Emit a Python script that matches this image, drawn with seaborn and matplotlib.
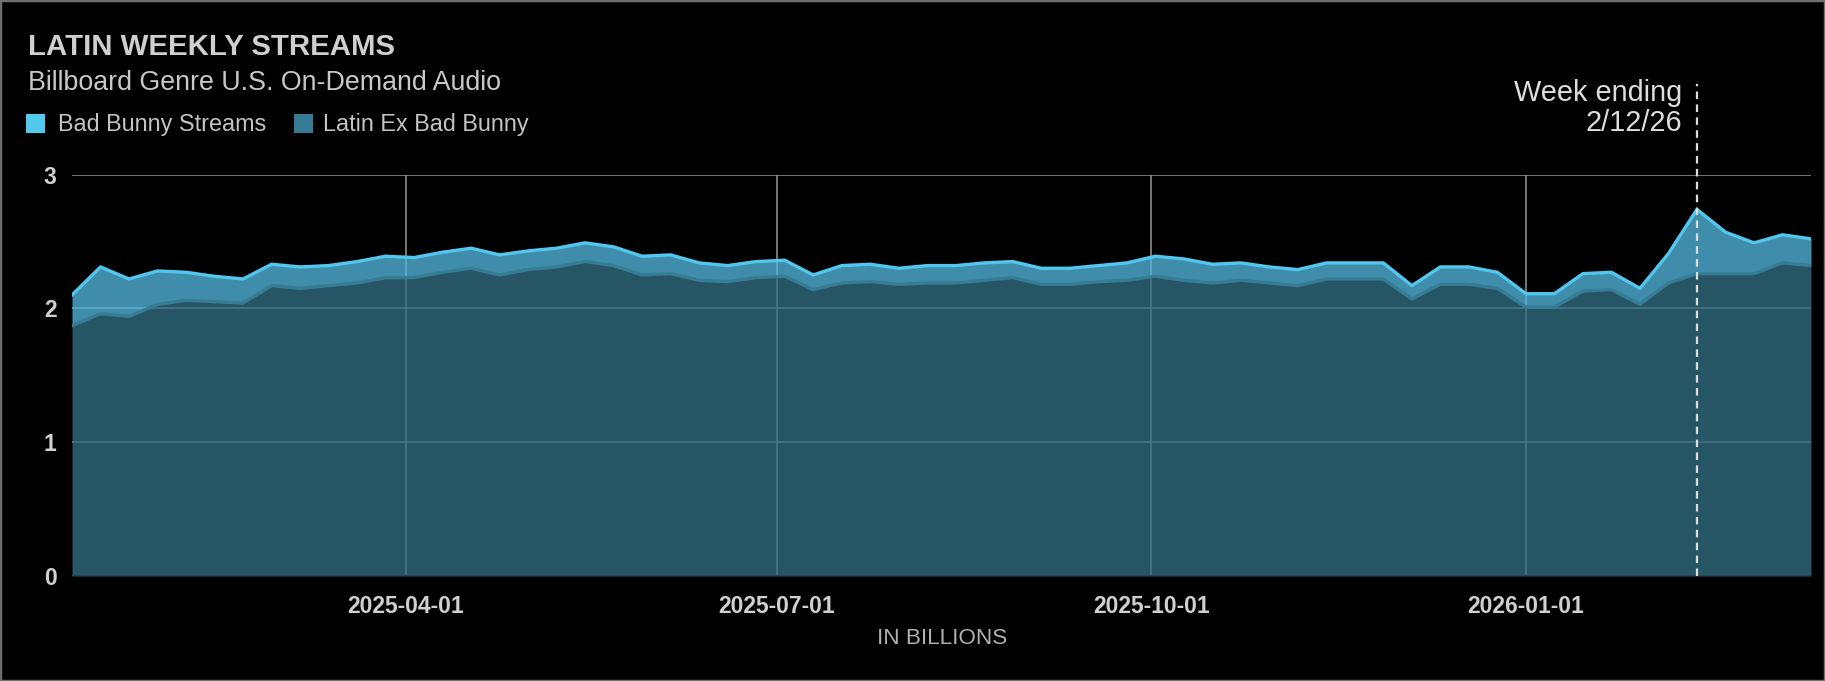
import matplotlib
matplotlib.use("Agg")
import matplotlib.pyplot as plt
from matplotlib.patches import Rectangle
import numpy as np
import pandas as pd
import seaborn as sns

# ---------------- data ----------------
start_week = "2025-01-09"
latin_ex_bad_bunny = [1.87, 1.96, 1.94, 2.03, 2.06, 2.05, 2.04, 2.17, 2.15, 2.17, 2.19, 2.23, 2.23, 2.27, 2.30, 2.25,
                      2.29, 2.31, 2.35, 2.32, 2.25, 2.26, 2.21, 2.20, 2.23, 2.24, 2.14, 2.19, 2.20, 2.18, 2.19,
                      2.19, 2.21, 2.23, 2.18, 2.18, 2.20, 2.21, 2.24, 2.21, 2.19, 2.21, 2.19, 2.17, 2.22, 2.22,
                      2.22, 2.07, 2.18, 2.18, 2.15, 2.01, 2.01, 2.13, 2.14, 2.03, 2.19, 2.26, 2.26, 2.26, 2.34, 2.32]
bad_bunny_streams = [0.23, 0.35, 0.28, 0.25, 0.21, 0.19, 0.18, 0.16, 0.16, 0.15, 0.16, 0.16, 0.15, 0.15, 0.15, 0.15,
                     0.14, 0.14, 0.14, 0.14, 0.14, 0.14, 0.13, 0.12, 0.12, 0.12, 0.11, 0.13, 0.13, 0.12, 0.13,
                     0.13, 0.13, 0.12, 0.12, 0.12, 0.12, 0.13, 0.15, 0.16, 0.14, 0.13, 0.12, 0.12, 0.12, 0.12,
                     0.12, 0.10, 0.13, 0.13, 0.12, 0.10, 0.10, 0.13, 0.13, 0.12, 0.22, 0.48, 0.31, 0.23, 0.21, 0.20]
series_names = ["Bad Bunny Streams", "Latin Ex Bad Bunny"]
x_tick_dates = ["2025-04-01", "2025-07-01", "2025-10-01", "2026-01-01"]
y_ticks = [0, 1, 2, 3]
marker_date = "2026-02-12"
marker_labels = ["Week ending", "2/12/26"]
title = "LATIN WEEKLY STREAMS"
subtitle = "Billboard Genre U.S. On-Demand Audio"
x_label = "IN BILLIONS"

weeks = pd.date_range(start_week, periods=len(latin_ex_bad_bunny), freq="7D")
df = pd.DataFrame({"week": weeks,
                   "latin_ex": latin_ex_bad_bunny,
                   "bad_bunny": bad_bunny_streams})
df["total"] = df["latin_ex"] + df["bad_bunny"]

# ---------------- style ----------------
sns.set_theme(style="dark")
plt.rcParams["font.family"] = ["Liberation Sans", "DejaVu Sans"]

W, H = 1825, 681
fig = plt.figure(figsize=(W / 100, H / 100), dpi=100, facecolor="black")
ax_l, ax_r, ax_t, ax_b = 72, 1811, 174.6, 576
ax = fig.add_axes([ax_l / W, 1 - ax_b / H, (ax_r - ax_l) / W, (ax_b - ax_t) / H])
ax.set_facecolor("black")

def fx(px):
    return px / W

def fy(py):
    return 1 - py / H

c_top_line = "#52c6ec"
c_top_fill = "#52b6dd"
c_bot_line = "#367c95"
c_bot_fill = "#326f82"
fill_alpha = 0.78

# grid under the fills
ax.set_axisbelow(True)
ax.grid(True, color="#8c8c8c", lw=1.2, zorder=0)

ax.fill_between(df["week"], 0, df["latin_ex"], color=c_bot_fill, alpha=fill_alpha, lw=0, zorder=1)
ax.fill_between(df["week"], df["latin_ex"], df["total"], color=c_top_fill, alpha=fill_alpha, lw=0, zorder=1)

sns.lineplot(data=df, x="week", y="latin_ex", ax=ax, color=c_bot_line, lw=2.4, zorder=3)
sns.lineplot(data=df, x="week", y="total", ax=ax, color=c_top_line, lw=2.4, zorder=4)

ax.set_xlim(weeks[0], weeks[-1])
ax.set_ylim(0, 3)
ax.set_yticks(y_ticks)
ax.set_yticklabels([str(v) for v in y_ticks])
ax.set_xticks(pd.to_datetime(x_tick_dates))
ax.set_xticklabels(x_tick_dates)
ax.set_xlabel("")
ax.set_ylabel("")
for s in ax.spines.values():
    s.set_visible(False)
ax.axhline(0, color="#1f4450", lw=2, zorder=5)

ax.tick_params(axis="x", length=0, pad=14, labelsize=16.5, labelcolor="#d0d0d0")
ax.tick_params(axis="y", length=0, pad=11, labelsize=16.5, labelcolor="#d0d0d0")
for lab in ax.get_xticklabels() + ax.get_yticklabels():
    lab.set_fontweight("bold")

# marker line
md = pd.Timestamp(marker_date)
ax.plot([md, md], [0, 3.68], color="#dcdcdc", lw=1.6, ls=(0, (3.4, 2.4)), clip_on=False, zorder=6)
fig.text(fx(1682), fy(101.4), marker_labels[0], ha="right", va="baseline", fontsize=20.8, color="#dddddd")
fig.text(fx(1682), fy(131.4), marker_labels[1], ha="right", va="baseline", fontsize=20.8, color="#dddddd")

# titles
fig.text(fx(28), fy(55), title, ha="left", va="baseline", fontsize=21.2, fontweight="bold", color="#cfcfcf")
fig.text(fx(28), fy(90.5), subtitle, ha="left", va="baseline", fontsize=19.3, color="#c8c8c8")

# legend
leg_items = [(25.6, 58, "#55c8ee", series_names[0]), (294, 323, "#357b94", series_names[1])]
for sx, tx, col, name in leg_items:
    fig.patches.append(Rectangle((fx(sx), fy(132)), 18 / W, 18 / H, transform=fig.transFigure,
                                 facecolor=col, edgecolor=col, lw=0.8, joinstyle="round"))
    fig.text(fx(tx), fy(130.8), name, ha="left", va="baseline", fontsize=16.8, color="#c4c4c4")

fig.text(fx(942), fy(639), x_label, ha="center", va="center", fontsize=16.2, color="#b0b0b0")

# frame
fig.patches.append(Rectangle((0, 0), 1, 1, transform=fig.transFigure, fill=False,
                             edgecolor="#6e6e6e", lw=2.5))

fig.savefig("out.png", dpi=100, facecolor="black")
